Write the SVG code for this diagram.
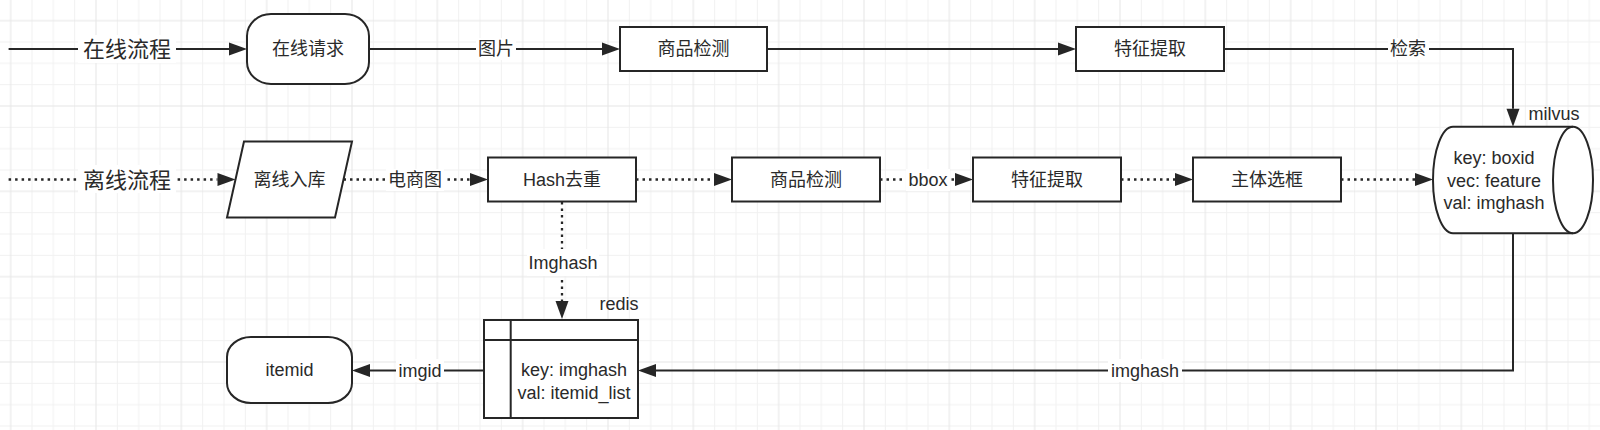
<svg xmlns="http://www.w3.org/2000/svg" width="1600" height="430" viewBox="0 0 1600 430">
<defs>
<pattern id="grid" patternUnits="userSpaceOnUse" x="10.667" y="20.667" width="85.333" height="85.333">
<path d="M21.333,0 V85.333 M42.667,0 V85.333 M64,0 V85.333 M0,21.333 H85.333 M0,42.667 H85.333 M0,64 H85.333" stroke="#f1f1f1" stroke-width="1" fill="none"/>
<path d="M0,0 V85.333 M85.333,0 V85.333 M0,0 H85.333 M0,85.333 H85.333" stroke="#e6e6e6" stroke-width="1" fill="none"/>
</pattern>
<marker id="arr" markerUnits="userSpaceOnUse" markerWidth="20" markerHeight="14" viewBox="0 -7 20 14" refX="0" refY="0" orient="auto" overflow="visible">
<path d="M0,-6.5 L18,0 L0,6.5 Z" fill="#262626"/>
</marker>
</defs>
<style>
.box{fill:#fff;stroke:#262626;stroke-width:2}
.ln{fill:none;stroke:#262626;stroke-width:2}
.dot{stroke-width:2.3;stroke-dasharray:2.5 4}
.t{font-family:"Liberation Sans","Noto Sans CJK SC",sans-serif;font-size:18px;fill:#2a2a2a;text-anchor:middle;dominant-baseline:central}
.big{font-size:22px}
.bg{fill:#fff}
</style>
<rect width="1600" height="430" fill="#fff"/>
<rect width="1600" height="430" fill="url(#grid)"/>

<g id="connectors">
<path class="ln" d="M8.6,49 H229" marker-end="url(#arr)"/>
<path class="ln" d="M369,49 H602" marker-end="url(#arr)"/>
<path class="ln" d="M767,49 H1058" marker-end="url(#arr)"/>
<path class="ln" d="M1224,49 H1513 V108.7" marker-end="url(#arr)"/>
<path class="ln dot" d="M8.6,179.5 H217.5" marker-end="url(#arr)"/>
<path class="ln dot" d="M343.5,179.5 H470" marker-end="url(#arr)"/>
<path class="ln dot" d="M636,179.5 H714" marker-end="url(#arr)"/>
<path class="ln dot" d="M880,179.5 H955" marker-end="url(#arr)"/>
<path class="ln dot" d="M1121,179.5 H1175" marker-end="url(#arr)"/>
<path class="ln dot" d="M1341,179.5 H1415" marker-end="url(#arr)"/>
<path class="ln dot" d="M562,202 V301" marker-end="url(#arr)"/>
<path class="ln" d="M1513,233.3 V370.5 H656" marker-end="url(#arr)"/>
<path class="ln" d="M484,370.5 H370" marker-end="url(#arr)"/>

<rect class="bg" x="78" y="35" width="98" height="28"/>
<text class="t big" x="127" y="49">在线流程</text>
<rect class="bg" x="476" y="38" width="40" height="22"/>
<text class="t" x="496" y="49">图片</text>
<rect class="bg" x="1388" y="38" width="41" height="22"/>
<text class="t" x="1408" y="49">检索</text>
<rect class="bg" x="78" y="165" width="98" height="28"/>
<text class="t big" x="127" y="180">离线流程</text>
<rect class="bg" x="386" y="169" width="58" height="22"/>
<text class="t" x="415" y="180">电商图</text>
<rect class="bg" x="906" y="169" width="44" height="22"/>
<text class="t" x="928" y="180">bbox</text>
<rect class="bg" x="527" y="249" width="72" height="27"/>
<text class="t" x="563" y="263">Imghash</text>
<rect class="bg" x="1108" y="359" width="74" height="23"/>
<text class="t" x="1145" y="370.5">imghash</text>
<rect class="bg" x="396" y="359" width="48" height="23"/>
<text class="t" x="420" y="370.5">imgid</text>
</g>

<g id="node-online-request">
<rect class="box" x="247" y="14" width="122" height="70" rx="24" ry="22"/>
<text class="t" x="308" y="49">在线请求</text>
</g>
<g id="node-online-detect">
<rect class="box" x="620" y="27" width="147" height="44"/>
<text class="t" x="693.5" y="49">商品检测</text>
</g>
<g id="node-online-feature">
<rect class="box" x="1076" y="27" width="148" height="44"/>
<text class="t" x="1150" y="49">特征提取</text>
</g>
<g id="node-offline-ingest">
<polygon class="box" points="244,141.5 352,141.5 335,217.5 227,217.5"/>
<text class="t" x="289.5" y="180">离线入库</text>
</g>
<g id="node-hash-dedup">
<rect class="box" x="488" y="157.5" width="148" height="44"/>
<text class="t" x="562" y="180">Hash去重</text>
</g>
<g id="node-offline-detect">
<rect class="box" x="732" y="157.5" width="148" height="44"/>
<text class="t" x="806" y="180">商品检测</text>
</g>
<g id="node-offline-feature">
<rect class="box" x="973" y="157.5" width="148" height="44"/>
<text class="t" x="1047" y="180">特征提取</text>
</g>
<g id="node-main-box">
<rect class="box" x="1193" y="157.5" width="148" height="44"/>
<text class="t" x="1267" y="180">主体选框</text>
</g>
<g id="node-milvus">
<path class="box" d="M1453,126.7 H1573 A20,53.3 0 0 1 1573,233.3 H1453 A20,53.3 0 0 1 1453,126.7 Z"/>
<path class="ln" d="M1573,126.7 A20,53.3 0 0 0 1573,233.3"/>
<text class="t" x="1554" y="114">milvus</text>
<text class="t" x="1494" y="158">key: boxid</text>
<text class="t" x="1494" y="180.5">vec: feature</text>
<text class="t" x="1494" y="203">val: imghash</text>
</g>
<g id="node-redis">
<rect class="box" x="484" y="320" width="154" height="98"/>
<path class="ln" d="M484,340 H638 M510.7,320 V418"/>
<text class="t" x="619" y="303.5">redis</text>
<text class="t" x="574" y="369.5">key: imghash</text>
<text class="t" x="574" y="392.5">val: itemid_list</text>
</g>
<g id="node-itemid">
<rect class="box" x="227" y="337" width="125" height="66" rx="24" ry="20"/>
<text class="t" x="289.5" y="370">itemid</text>
</g>
</svg>
